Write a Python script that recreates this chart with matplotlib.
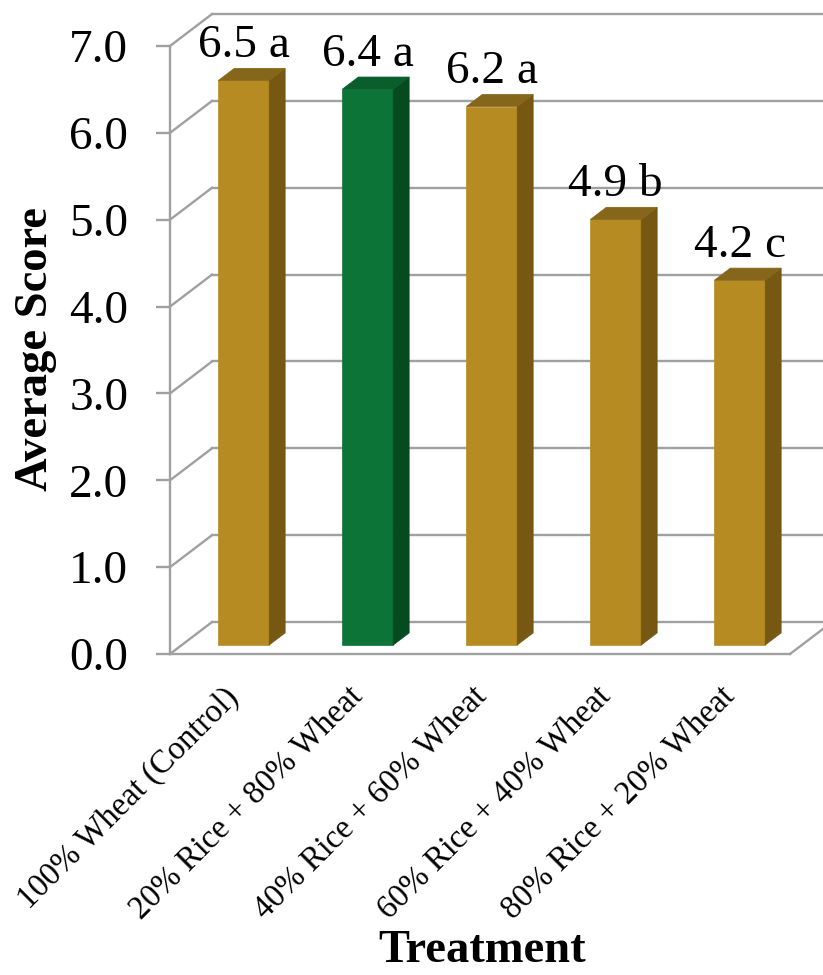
import numpy as np
import matplotlib
matplotlib.use("Agg")
import matplotlib.pyplot as plt
from matplotlib.patches import Polygon

plt.rcParams['font.family'] = ['Liberation Serif', 'DejaVu Serif']

# data
treatments = ["100% Wheat (Control)", "20% Rice + 80% Wheat", "40% Rice + 60% Wheat",
              "60% Rice + 40% Wheat", "80% Rice + 20% Wheat"]
scores = [6.5, 6.4, 6.2, 4.9, 4.2]
letters = ["a", "a", "a", "b", "c"]
highlight = [False, True, False, False, False]
y_ticks = [0, 1, 2, 3, 4, 5, 6, 7]

# colours (front, side, top)
GOLD = ("#B68C22", "#765813", "#86661A")
GREEN = ("#0D7438", "#064B20", "#0A5E2B")
GRID = "#A0A0A0"

# fake 3D depth, in data units (x: categories, y: score)
DX, DY = 0.339, 0.368
D0, D1 = 0.28, 0.66
BAR_W = 0.41


def draw_walls(ax):
    for v in y_ticks:
        ax.plot([-0.5, -0.5 + DX], [v, v + DY], color=GRID, lw=1.7, clip_on=False, zorder=1)
        ax.plot([-0.5 + DX, len(scores) - 0.5 + DX], [v + DY, v + DY],
                color=GRID, lw=1.7, clip_on=False, zorder=1)
    ax.plot([len(scores) - 0.5, len(scores) - 0.5 + DX], [0, DY],
            color=GRID, lw=1.7, clip_on=False, zorder=1)


def draw_bars(ax):
    x = np.arange(len(scores))
    ddx, ddy = DX * (D1 - D0), DY * (D1 - D0)
    for i, s in enumerate(scores):
        front, side, top = GREEN if highlight[i] else GOLD
        xc = x[i] + DX * D0
        y0 = DY * D0
        x0, x1 = xc - BAR_W / 2, xc + BAR_W / 2
        yt = y0 + s
        ax.bar(xc, s, width=BAR_W, bottom=y0, color=front, zorder=3,
               edgecolor=front, linewidth=0.5, clip_on=False)
        ax.add_patch(Polygon([(x1, y0), (x1 + ddx, y0 + ddy), (x1 + ddx, yt + ddy), (x1, yt)],
                             closed=True, facecolor=side, edgecolor=side, lw=0.5,
                             zorder=3, clip_on=False))
        ax.add_patch(Polygon([(x0, yt), (x1, yt), (x1 + ddx, yt + ddy), (x0 + ddx, yt + ddy)],
                             closed=True, facecolor=top, edgecolor=top, lw=0.5,
                             zorder=3, clip_on=False))
        ax.text(xc, yt + ddy + 0.13, f"{s:.1f} {letters[i]}", ha="center", va="baseline",
                fontsize=34, zorder=4, clip_on=False)


def main():
    fig = plt.figure(figsize=(8.23, 9.75), dpi=100)
    ax = fig.add_axes([170 / 823, (975 - 654) / 975, 620 / 823, 608 / 975])
    ax.set_xlim(-0.5, len(scores) - 0.5)
    ax.set_ylim(0, 7)

    draw_walls(ax)
    draw_bars(ax)

    for side in ["top", "right"]:
        ax.spines[side].set_visible(False)
    for side in ["left", "bottom"]:
        ax.spines[side].set_color(GRID)
        ax.spines[side].set_linewidth(1.7)
        ax.spines[side].set_zorder(2)

    ax.set_yticks(y_ticks)
    ax.set_yticklabels([f"{v:.1f}" for v in y_ticks], fontsize=34)
    ax.tick_params(axis="y", length=10, width=1.7, color=GRID, pad=20)

    ax.set_xticks(np.arange(len(scores)) - 0.07)
    ax.set_xticklabels(treatments, rotation=45, ha="right", va="top",
                       rotation_mode="anchor", fontsize=23.5)
    ax.tick_params(axis="x", length=0, pad=20)

    fig.text(36 / 823, 1 - 349 / 975, "Average Score", rotation=90, ha="center",
             va="center", fontsize=33.5, fontweight="bold")
    fig.text(482 / 823, 1 - 962 / 975, "Treatment", ha="center", va="baseline",
             fontsize=33.5, fontweight="bold")

    fig.savefig("out.png", dpi=100)


if __name__ == "__main__":
    main()
